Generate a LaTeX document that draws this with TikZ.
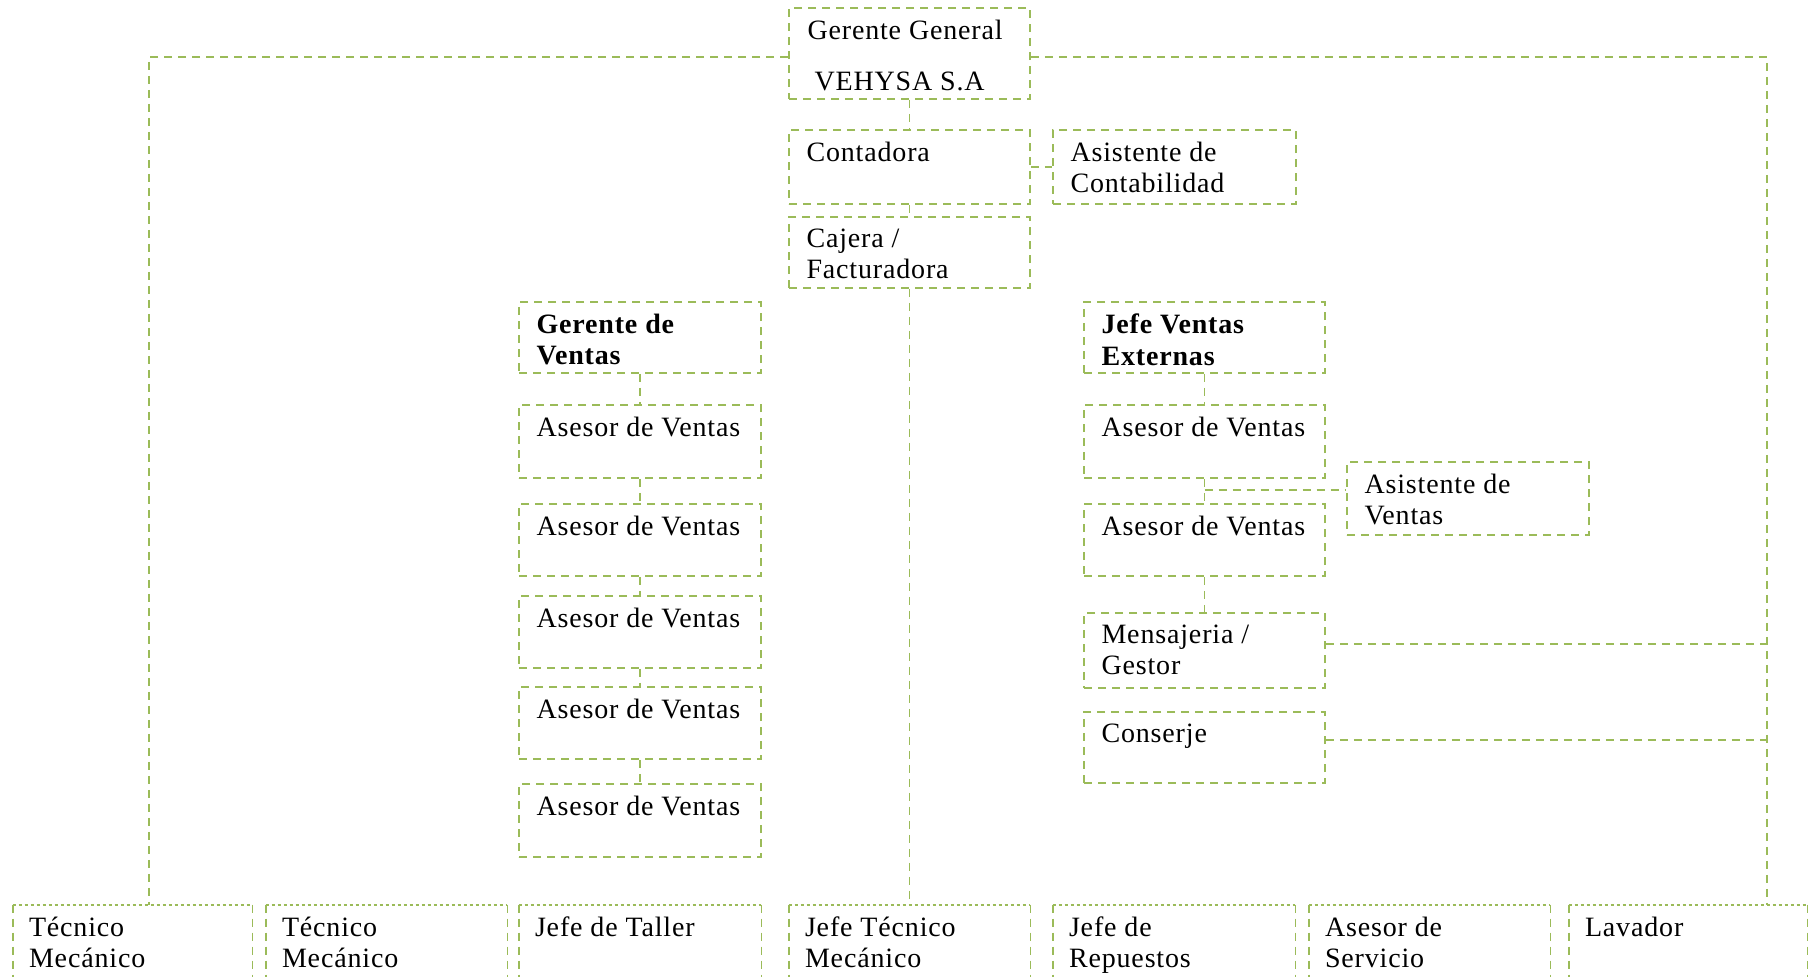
\documentclass[tikz,border=0pt]{standalone}
\usepackage{fontspec}
\setmainfont{Liberation Serif}[LetterSpace=3]
\usetikzlibrary{fit}
\definecolor{olv}{HTML}{9BBB59}
\tikzset{
 line/.style={draw=olv, line width=0.9pt, dash pattern=on 4pt off 3pt},
 boxs/.style={line, inner sep=0pt, fit={#1}},
 fitonly/.style={inner sep=0pt, fit={#1}},
 txt/.style={anchor=north west, inner sep=0pt, align=left, font=\fontsize{14}{15.6}\selectfont},
 btxt/.style={txt, font=\fontsize{14}{15.6}\selectfont\bfseries},
}
\newcommand\orgbox[7][txt]{%
 \node[boxs={(#3,#4)(#5,#6)}] (#2) {};
 \node[#1] at ([xshift=9pt,yshift=-6.3pt]#2.north west) {#7};}
\newcommand\botbox[4]{%
 \node[fitonly={(#2,905)(#3,1000)}] (#1) {};
 \draw[line] (#1.north west) -- (#1.south west);
 \draw[line] (#1.north east) -- (#1.south east);
 \draw[line, dash pattern=on 1.5pt off 1.5pt] (#1.north west) -- (#1.north east);
 \node[txt] at ([xshift=8pt,yshift=-6pt]#1.north west) {#4};}
\begin{document}
\begin{tikzpicture}[x=0.5pt,y=-0.5pt]
\useasboundingbox (0,0) rectangle (1814,976);
\clip (0,0) rectangle (1814,976);
% top
\node[boxs={(789,8)(1030,99)}] (gg) {};
\node[txt] at ([xshift=9.5pt,yshift=-6.3pt]gg.north west) {Gerente General};
\node[txt] at ([xshift=13pt,yshift=-32.3pt]gg.north west) {VEHYSA S.A};
\orgbox{cont}{789}{130}{1030}{204}{Contadora}
\orgbox{asc}{1053}{130}{1296}{204}{Asistente de\\Contabilidad}
\orgbox{caj}{789}{217}{1030}{288}{Cajera /\\Facturadora}
% left column
\orgbox[btxt]{gv}{519}{302}{761}{373}{Gerente de\\Ventas}
\orgbox{a1}{519}{405}{761}{478}{Asesor de Ventas}
\orgbox{a2}{519}{504}{761}{576}{Asesor de Ventas}
\orgbox{a3}{519}{596}{761}{668}{Asesor de Ventas}
\orgbox{a4}{519}{687}{761}{759}{Asesor de Ventas}
\orgbox{a5}{519}{784}{761}{857}{Asesor de Ventas}
% right column
\orgbox[btxt]{jve}{1084}{302}{1325}{373}{Jefe Ventas\\Externas}
\orgbox{b1}{1084}{405}{1325}{478}{Asesor de Ventas}
\orgbox{b2}{1084}{504}{1325}{576}{Asesor de Ventas}
\orgbox{asv}{1347}{462}{1589}{535}{Asistente de\\Ventas}
\orgbox{mg}{1084}{613}{1325}{688}{Mensajeria /\\Gestor}
\orgbox{cons}{1084}{712}{1325}{783}{Conserje}
% bottom row
\botbox{tm1}{13}{252}{Técnico\\Mecánico}
\botbox{tm2}{266}{507}{Técnico\\Mecánico}
\botbox{jt}{519}{761}{Jefe de Taller}
\botbox{jtm}{789}{1030}{Jefe Técnico\\Mecánico}
\botbox{jr}{1053}{1295}{Jefe de\\Repuestos}
\botbox{as}{1309}{1550}{Asesor de\\Servicio}
\botbox{lav}{1569}{1807}{Lavador}
% connectors
\coordinate (L) at (149,57);
\coordinate (R) at (1767,57);
\draw[line] (gg.west |- L) -- (L) -- (L |- tm1.north);
\draw[line] (gg.east |- R) -- (R) -- (R |- lav.north);
\draw[line] (gg.south) -- (cont.north);
\draw[line] (cont.east) -- (asc.west);
\draw[line] (cont.south) -- (caj.north);
\draw[line] (caj.south) -- (jtm.north);
\draw[line] (gv.south) -- (a1.north);
\draw[line] (a1.south) -- (a2.north);
\draw[line] (a2.south) -- (a3.north);
\draw[line] (a3.south) -- (a4.north);
\draw[line] (a4.south) -- (a5.north);
\draw[line] (jve.south) -- (b1.north);
\draw[line] (b1.south) -- (b2.north);
\draw[line] ([yshift=4.2pt]asv.west -| b1.south) -- ([yshift=4.2pt]asv.west);
\draw[line] (b2.south) -- (mg.north);
\draw[line] ([yshift=3.2pt]mg.east) -- ([yshift=3.2pt]mg.east -| R);
\draw[line] ([yshift=3.7pt]cons.east) -- ([yshift=3.7pt]cons.east -| R);
\end{tikzpicture}
\end{document}
